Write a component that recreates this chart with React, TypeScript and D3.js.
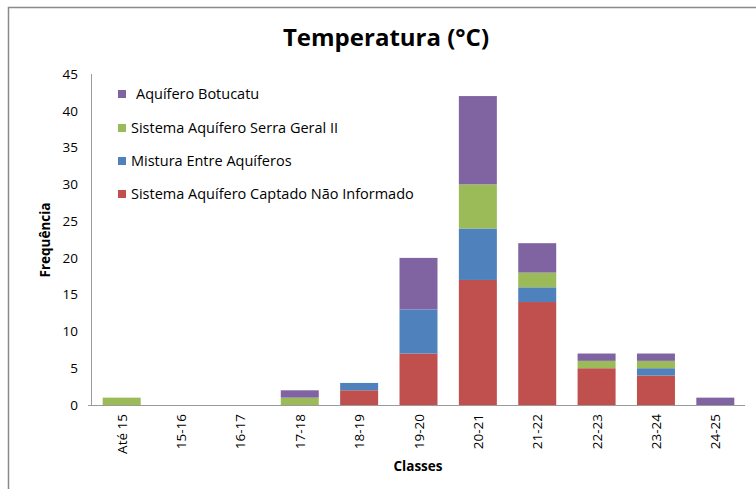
import React from "react";
import * as d3 from "d3";

const classes = ["Até 15", "15-16", "16-17", "17-18", "18-19", "19-20", "20-21", "21-22", "22-23", "23-24", "24-25"];
const naoInformado = [0, 0, 0, 0, 2, 7, 17, 14, 5, 4, 0];
const mistura = [0, 0, 0, 0, 1, 6, 7, 2, 0, 1, 0];
const serraGeral = [1, 0, 0, 1, 0, 0, 6, 2, 1, 1, 0];
const botucatu = [0, 0, 0, 1, 0, 7, 12, 4, 1, 1, 1];
const yTicks = [0, 5, 10, 15, 20, 25, 30, 35, 40, 45];

const seriesNames = [
  "Sistema Aquífero Captado Não Informado",
  "Mistura Entre Aquíferos",
  "Sistema Aquífero Serra Geral II",
  "Aquífero Botucatu",
];
const seriesColors = ["#C0504D", "#4F81BD", "#9BBB59", "#8064A2"];

const W = 756;
const H = 489;
const plot = { left: 92, right: 745, top: 74, bottom: 405 };
const FONT = "'Open Sans', 'Liberation Sans', sans-serif";

export default function App() {
  const rows = classes.map((c, i) => ({
    c,
    s0: naoInformado[i],
    s1: mistura[i],
    s2: serraGeral[i],
    s3: botucatu[i],
  }));
  const stack = d3.stack<any>().keys(["s0", "s1", "s2", "s3"])(rows);

  const x = d3.scaleBand<string>().domain(classes).range([plot.left, plot.right]).paddingInner(0.36).paddingOuter(0.18);
  const y = d3.scaleLinear().domain([0, 45]).range([plot.bottom, plot.top]);

  const legendY = [94, 128, 161, 194];
  const legendOrder = [3, 2, 1, 0];

  return (
    <svg width={W} height={H} style={{ position: "fixed", left: 0, top: 0 }} fontFamily={FONT}>
      <rect x={0} y={0} width={W} height={H} fill="#fff" />
      <rect x={8.5} y={7.5} width={W + 20} height={H + 20} fill="none" stroke="#8a8a8a" strokeWidth={1.5} />

      <text x={386} y={46} textAnchor="middle" fontSize={24} fontWeight="bold" fill="#000">
        Temperatura (°C)
      </text>

      {stack.map((layer, si) =>
        layer.map((d, i) => {
          const h = y(d[0]) - y(d[1]);
          if (h <= 0) return null;
          return (
            <rect
              key={`${si}-${i}`}
              x={x(classes[i])}
              y={y(d[1])}
              width={x.bandwidth()}
              height={h}
              fill={seriesColors[si]}
            />
          );
        })
      )}

      {/* axes */}
      <line x1={plot.left - 0.5} x2={plot.left - 0.5} y1={plot.top} y2={plot.bottom} stroke="#9a9a9a" />
      <line x1={plot.left - 4} x2={plot.right} y1={plot.bottom + 0.5} y2={plot.bottom + 0.5} stroke="#9a9a9a" />
      {yTicks.map((t) => (
        <text key={t} x={78} y={y(t)} dy="0.35em" textAnchor="end" fontSize={13.5} fill="#000">
          {t}
        </text>
      ))}
      {classes.map((c) => {
        const cx = (x(c) as number) + x.bandwidth() / 2;
        return (
          <text
            key={c}
            transform={`translate(${cx + 5},${414}) rotate(-90)`}
            textAnchor="end"
            fontSize={13.5}
            fill="#000"
          >
            {c}
          </text>
        );
      })}

      <text x={418} y={471} textAnchor="middle" fontSize={13.5} fontWeight="bold" fill="#000">
        Classes
      </text>
      <text transform={`translate(50,240) rotate(-90)`} textAnchor="middle" fontSize={13.5} fontWeight="bold" fill="#000">
        Frequência
      </text>

      {legendOrder.map((si, k) => (
        <g key={si}>
          <rect x={118} y={legendY[k] - 4} width={8} height={8} fill={seriesColors[si]} />
          <text x={si === 3 ? 136 : 131} y={legendY[k]} dy="0.35em" fontSize={14.5} fill="#000">
            {seriesNames[si]}
          </text>
        </g>
      ))}
    </svg>
  );
}
